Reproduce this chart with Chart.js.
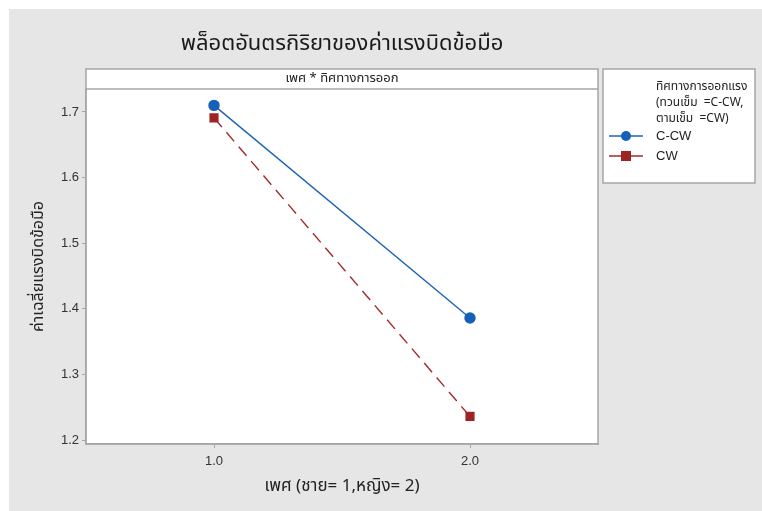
<!DOCTYPE html>
<html>
<head>
<meta charset="utf-8">
<script src="https://cdn.jsdelivr.net/npm/chart.js@4/dist/chart.umd.min.js"></script>
<style>
  html, body { margin: 0; padding: 0; background: #ffffff; }
  #wrap { width: 762px; height: 511px; }
</style>
</head>
<body>
<div id="wrap"><canvas id="c" width="762" height="511"></canvas></div>
<script>
// Interaction plot data: mean wrist torque by gender and turning direction
const genderLevels = [1.0, 2.0];
const seriesNames = ['C-CW', 'CW'];
const ccwMeans = [1.710, 1.386];
const cwMeans = [1.691, 1.236];
const yTickValues = [1.2, 1.3, 1.4, 1.5, 1.6, 1.7];
const xTickValues = [1.0, 2.0];

const titleText = 'พล็อตอันตรกิริยาของค่าแรงบิดข้อมือ';
const panelText = 'เพศ * ทิศทางการออก';
const legendTitle = ['ทิศทางการออกแรง', '(ทวนเข็ม  =C-CW,', 'ตามเข็ม  =CW)'];
const xTitle = 'เพศ (ชาย= 1,หญิง= 2)';
const yTitle = 'ค่าเฉลี่ยแรงบิดข้อมือ';

const THAI = '"Noto Sans Thai", "Noto Sans", "DejaVu Sans", sans-serif';
const LATIN = '"Liberation Sans", Arial, sans-serif';
const BG = '#e6e6e6';
const FRAME = '#a6a6a6';
const BLUE = '#1f63b6';
const RED = '#9e2424';

const toPoints = vals => genderLevels.map((x, i) => ({ x: x, y: vals[i] }));

// Figure furniture: grey page, panel strip, frame, title and legend box
const furniture = {
  id: 'furniture',
  beforeDraw(chart) {
    const ctx = chart.ctx;
    const a = chart.chartArea;
    ctx.save();
    ctx.fillStyle = '#ffffff';
    ctx.fillRect(0, 0, chart.width, chart.height);
    ctx.fillStyle = BG;
    ctx.fillRect(9, 9, chart.width - 9, chart.height - 9);
    ctx.fillStyle = '#ffffff';
    ctx.fillRect(a.left, a.top - 20, a.right - a.left, a.bottom - a.top + 20);

    // title
    ctx.fillStyle = '#1a1a1a';
    ctx.font = '22px ' + THAI;
    ctx.textAlign = 'center';
    ctx.textBaseline = 'middle';
    ctx.fillText(titleText, (a.left + a.right) / 2, 46);

    // panel strip label
    ctx.font = '13px ' + THAI;
    ctx.fillStyle = '#222222';
    ctx.fillText(panelText, (a.left + a.right) / 2, 79);
    ctx.restore();
  },
  afterDatasetsDraw(chart) {
    const ctx = chart.ctx;
    const a = chart.chartArea;
    ctx.save();
    ctx.strokeStyle = FRAME;
    ctx.lineWidth = 1.5;
    ctx.strokeRect(a.left, a.top - 20, a.right - a.left, a.bottom - a.top + 20);
    ctx.beginPath();
    ctx.moveTo(a.left, a.top);
    ctx.lineTo(a.right, a.top);
    ctx.stroke();

    // legend box
    const lx = 603, ly = 69, lw = 152, lh = 114;
    ctx.fillStyle = '#ffffff';
    ctx.fillRect(lx, ly, lw, lh);
    ctx.strokeRect(lx, ly, lw, lh);
    ctx.fillStyle = '#222222';
    ctx.font = '12px ' + THAI;
    ctx.textAlign = 'left';
    ctx.textBaseline = 'middle';
    legendTitle.forEach((t, i) => ctx.fillText(t, 656, 88 + i * 16));

    chart.data.datasets.forEach((ds, i) => {
      const y = 136 + i * 20;
      ctx.strokeStyle = ds.borderColor;
      ctx.lineWidth = 1.3;
      ctx.setLineDash([]);
      ctx.beginPath();
      ctx.moveTo(609, y);
      ctx.lineTo(643, y);
      ctx.stroke();
      ctx.fillStyle = ds.pointBackgroundColor;
      if (ds.pointStyle === 'rect') {
        ctx.fillRect(621, y - 5, 10, 10);
      } else {
        ctx.beginPath();
        ctx.arc(626, y, 5, 0, Math.PI * 2);
        ctx.fill();
      }
      ctx.fillStyle = '#222222';
      ctx.font = '13px ' + LATIN;
      ctx.fillText(ds.label, 656, y);
    });
    ctx.restore();
  }
};

new Chart(document.getElementById('c'), {
  type: 'line',
  data: {
    datasets: [
      {
        label: seriesNames[0],
        data: toPoints(ccwMeans),
        borderColor: BLUE,
        backgroundColor: BLUE,
        pointBackgroundColor: '#1660b8',
        pointBorderColor: '#1660b8',
        pointStyle: 'circle',
        pointRadius: 5,
        borderWidth: 1.4
      },
      {
        label: seriesNames[1],
        data: toPoints(cwMeans),
        borderColor: '#a32a2a',
        backgroundColor: RED,
        pointBackgroundColor: RED,
        pointBorderColor: RED,
        pointStyle: 'rect',
        pointRadius: 5.5,
        borderWidth: 1.4,
        borderDash: [12, 7]
      }
    ]
  },
  options: {
    responsive: false,
    animation: false,
    devicePixelRatio: 1,
    layout: { padding: { left: 0, right: 164, top: 89, bottom: 0 } },
    plugins: {
      legend: { display: false },
      title: { display: false },
      tooltip: { enabled: false }
    },
    scales: {
      x: {
        type: 'linear',
        min: 0.5,
        max: 2.5,
        afterBuildTicks: s => { s.ticks = xTickValues.map(v => ({ value: v })); },
        afterFit: s => { s.height = 67; },
        grid: { drawOnChartArea: false, drawTicks: true, tickLength: 4, color: FRAME },
        border: { display: true, color: FRAME, width: 1.5 },
        ticks: {
          padding: 6,
          color: '#333333',
          font: { family: LATIN, size: 13 },
          callback: v => Number(v).toFixed(1)
        },
        title: {
          display: true,
          text: xTitle,
          color: '#222222',
          font: { family: THAI, size: 17 },
          padding: { top: 0, bottom: 13 }
        }
      },
      y: {
        type: 'linear',
        min: 1.194,
        max: 1.735,
        afterBuildTicks: s => { s.ticks = yTickValues.map(v => ({ value: v })); },
        afterFit: s => { s.width = 86; },
        grid: { drawOnChartArea: false, drawTicks: true, tickLength: 4, color: FRAME },
        border: { display: true, color: FRAME, width: 1.5 },
        ticks: {
          padding: 3,
          color: '#333333',
          font: { family: LATIN, size: 13 },
          callback: v => Number(v).toFixed(1)
        },
        title: {
          display: true,
          text: yTitle,
          color: '#222222',
          font: { family: THAI, size: 16 },
          padding: { top: 30, bottom: 0 }
        }
      }
    }
  },
  plugins: [furniture]
});
</script>
</body>
</html>
